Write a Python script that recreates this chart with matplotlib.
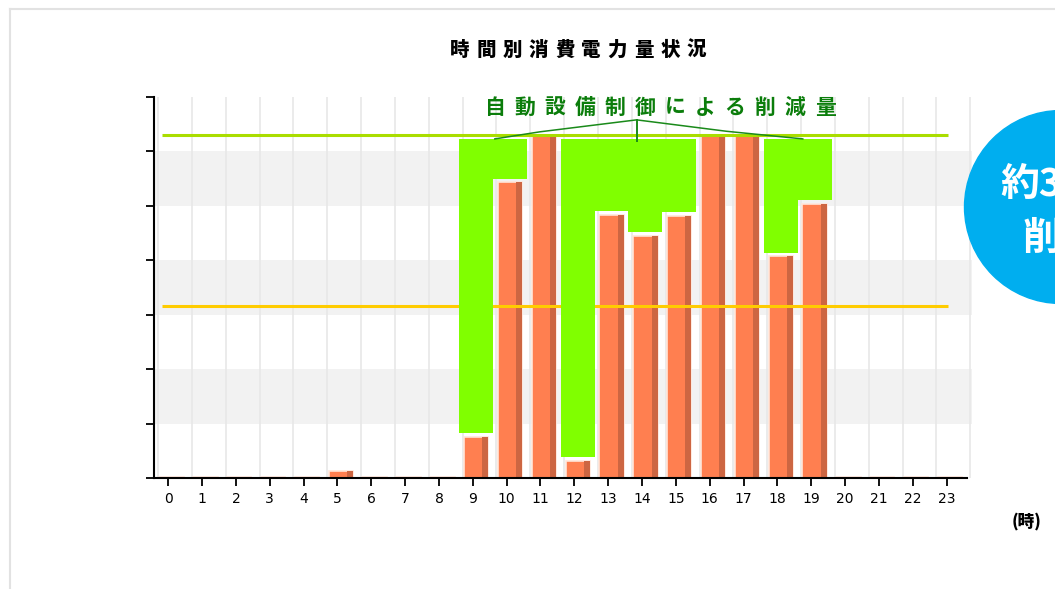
import matplotlib
matplotlib.use('Agg')
import matplotlib.pyplot as plt
from matplotlib.patches import Ellipse
from matplotlib.lines import Line2D

plt.rcParams['font.family'] = ['Noto Sans CJK JP', 'DejaVu Sans']

# 時間別の使用量(オレンジ)と自動設備制御による削減量(緑)
hours = list(range(24))
usage = [0.02, 0.02, 0.02, 0.02, 0.02, 0.13, 0.02, 0.02, 0.02, 0.76, 5.43, 6.31,
         0.31, 4.83, 4.45, 4.82, 6.31, 6.31, 4.07, 5.03, 0.02, 0.02, 0.02, 0.02]
reduction = [0, 0, 0, 0, 0, 0, 0, 0, 0, 5.47, 0.80, 0,
             5.92, 1.40, 1.78, 1.41, 0, 0, 2.16, 1.20, 0, 0, 0, 0]
upper_line = 6.31
target_line = 3.16
hour_labels = [str(h) for h in hours]

W, H = 1055, 589
fig = plt.figure(figsize=(W / 100, H / 100), dpi=100)
ax = fig.add_axes([154 / W, 1 - 478 / H, 818 / W, 381 / H])

def px(x, y):
    return x / W, 1 - y / H

# background bands and grid
for lo in (1, 3, 5):
    ax.axhspan(lo, lo + 1, color='#f2f2f2', zorder=0, lw=0)
for h in range(25):
    ax.axvline(h - 0.3, color='#e8e8e8', lw=1.2, zorder=0.5)

off = 0.1
bw = 0.72
shadow = 0.18
gap = 0.07

# orange bars with darker right side
xs = [h + off for h in hours]
ax.bar(xs, usage, width=bw, color='#ff7f50', edgecolor='#ffe6da', lw=1.2, zorder=2)
ax.bar([x + bw / 2 - shadow for x in xs], usage, width=shadow, align='edge',
       color='#cd6642', lw=0, zorder=2.1)

# limit lines
ax.hlines(upper_line, -0.17, 23.05, color='#aadd00', lw=2.2, zorder=3)
ax.hlines(target_line, -0.17, 23.05, color='#ffcc00', lw=2.2, zorder=3)

# reduction (green), stacked above usage
gx = [x for x, r in zip(xs, reduction) if r > 0]
gb = [u + gap for u, r in zip(usage, reduction) if r > 0]
gh = [r - gap for r in reduction if r > 0]
ax.bar(gx, gh, bottom=gb, width=1.0, color='#80ff00', lw=0, zorder=4)

# bracket for annotation
top = usage[9] + reduction[9]
peak = 6.58
left_x, mid_x, right_x = 9.65, 13.84, 18.75
ax.plot([left_x, 10.98, mid_x, 16.5, right_x], [top, 6.36, peak, 6.37, top],
        color='#1a8a1a', lw=1.1, zorder=5, clip_on=False)
ax.plot([mid_x, mid_x], [peak, top - 0.03], color='#1a8a1a', lw=1.4, zorder=5,
        clip_on=False)

ax.set_xlim(-0.42, 23.75)
ax.set_ylim(0, 7)
ax.set_xticks(hours)
ax.set_xticklabels(hour_labels, family='DejaVu Sans', fontsize=10)
ax.set_yticks(range(8))
ax.set_yticklabels([])
ax.tick_params(axis='x', direction='out', length=6, width=1.3, pad=4)
ax.tick_params(axis='y', direction='out', length=6, width=1.3)
for s in ('top', 'right'):
    ax.spines[s].set_visible(False)
ax.spines['left'].set_linewidth(1.5)
ax.spines['bottom'].set_linewidth(1.5)
ax.spines['bottom'].set_bounds(-0.42, 23.6)
ax.patch.set_alpha(0)


def spaced_text(s, cx, cy, adv, **kw):
    n = len(s)
    for k, ch in enumerate(s):
        x, y = px(cx + (k - (n - 1) / 2) * adv, cy)
        fig.text(x, y, ch, ha='center', va='center', **kw)


spaced_text('時間別消費電力量状況', 578, 50, 26.3, fontsize=14, fontweight='black',
            color='black')
spaced_text('自動設備制御による削減量', 660, 107, 30, fontsize=15,
            fontweight='bold', color='#0b7d0b')

fig.text(*px(1012, 521), '(時)', ha='left', va='center', fontsize=12,
         fontweight='black', color='black')

# page frame
fig.add_artist(Line2D([10 / W, 10 / W], [0, 1 - 9 / H], color='#e2e2e2', lw=1.5,
                      transform=fig.transFigure))
fig.add_artist(Line2D([10 / W, 1], [1 - 9 / H, 1 - 9 / H], color='#e2e2e2', lw=1.5,
                      transform=fig.transFigure))

# blue badge, partly off the page (cut off in the source screenshot too)
cx, cy = px(1061, 207)
fig.add_artist(Ellipse((cx, cy), 193 / W, 193 / H, color='#00aeef',
                       transform=fig.transFigure, zorder=10))
fig.text(*px(1061, 184), '約30%', ha='center', va='center', fontsize=28,
         fontweight='bold', color='white', zorder=11)
fig.text(*px(1061, 238), '削減', ha='center', va='center', fontsize=28,
         fontweight='bold', color='white', zorder=11)

fig.savefig('out.png', dpi=100)
